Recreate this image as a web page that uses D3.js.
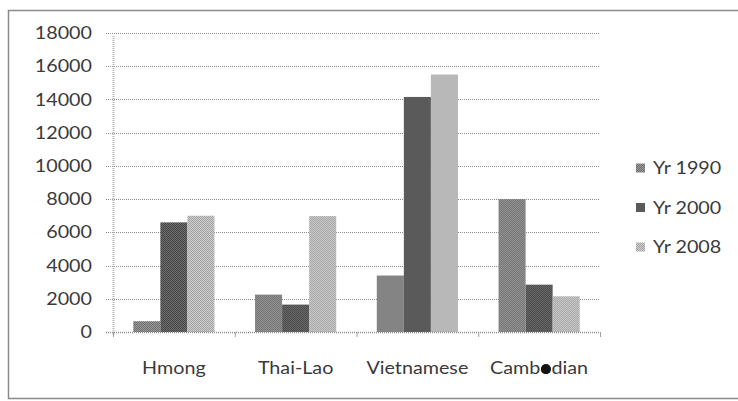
<!DOCTYPE html>
<html>
<head>
<meta charset="utf-8">
<script src="https://cdn.jsdelivr.net/npm/d3@7"></script>
<style>
  html, body { margin: 0; padding: 0; background: #fff; }
  svg { display: block; }
  text { font-family: Lato, "Open Sans", sans-serif; fill: #3a3a3a; }
</style>
</head>
<body>
<svg id="chart" width="738" height="401"></svg>
<script>
// Population by group, three census years
const groups = ["Hmong", "Thai-Lao", "Vietnamese", "Cambodian"];
const seriesNames = ["Yr 1990", "Yr 2000", "Yr 2008"];
const yr1990 = [650, 2250, 3400, 8000];
const yr2000 = [6600, 1650, 14150, 2850];
const yr2008 = [7000, 6980, 15500, 2150];
const yTicks = [0, 2000, 4000, 6000, 8000, 10000, 12000, 14000, 16000, 18000];

const seriesValues = [yr1990, yr2000, yr2008];
const rows = groups.map((g, i) => ({
  group: g,
  values: seriesNames.map((s, j) => ({ series: s, value: seriesValues[j][i] }))
}));

const svg = d3.select("#chart");
const plot = { left: 113, right: 600, top: 33, bottom: 332 };
const stretch = 1.16;
const labelBaseline = 374;
const fontSize = 17;

// two-tone checker fills for each series
const fills = [
  ["#6c6c6c", "#9c9c9c"],
  ["#434343", "#707070"],
  ["#9e9e9e", "#d2d2d2"]
];
const defs = svg.append("defs");
fills.forEach((c, i) => {
  const p = defs.append("pattern")
    .attr("id", "fill" + i)
    .attr("patternUnits", "userSpaceOnUse")
    .attr("width", 2).attr("height", 2);
  p.append("rect").attr("width", 2).attr("height", 2).attr("fill", c[0]);
  p.append("rect").attr("width", 1).attr("height", 1).attr("fill", c[1]);
  p.append("rect").attr("x", 1).attr("y", 1).attr("width", 1).attr("height", 1).attr("fill", c[1]);
});

// widen text horizontally
function widen(sel) {
  sel.each(function () {
    const w = this.getComputedTextLength();
    d3.select(this).attr("textLength", w * stretch).attr("lengthAdjust", "spacingAndGlyphs");
  });
}

// frame around the chart
svg.append("rect")
  .attr("x", 8.5).attr("y", 10.5)
  .attr("width", 745).attr("height", 388)
  .attr("fill", "none").attr("stroke", "#8a8a8a").attr("stroke-width", 1.5);

const x0 = d3.scaleBand().domain(groups).range([plot.left, plot.right]).paddingInner(0).paddingOuter(0);
// gap between groups is 1.5 bar widths
const x1 = d3.scaleBand().domain(seriesNames)
  .range([x0.bandwidth() * 0.75 / 4.5, x0.bandwidth() - x0.bandwidth() * 0.75 / 4.5]);
const y = d3.scaleLinear().domain([0, 18000]).range([plot.bottom, plot.top]);

// gridlines
svg.append("g").selectAll("line").data(yTicks.filter(t => t > 0)).join("line")
  .attr("x1", plot.left - 7).attr("x2", plot.right)
  .attr("y1", d => Math.round(y(d)) + 0.5).attr("y2", d => Math.round(y(d)) + 0.5)
  .attr("stroke", "#8c8c8c").attr("stroke-width", 1).attr("stroke-dasharray", "1,1");

// y axis line
svg.append("line")
  .attr("x1", plot.left + 0.5).attr("x2", plot.left + 0.5)
  .attr("y1", plot.top + 3).attr("y2", plot.bottom + 4)
  .attr("stroke", "#b5b5b5").attr("stroke-width", 2).attr("stroke-dasharray", "1,1");

// bars
const gGroups = svg.append("g").selectAll("g").data(rows).join("g")
  .attr("transform", d => `translate(${x0(d.group)},0)`);
gGroups.selectAll("rect").data(d => d.values).join("rect")
  .attr("x", d => x1(d.series))
  .attr("width", x1.bandwidth())
  .attr("y", d => y(d.value))
  .attr("height", d => y(0) - y(d.value))
  .attr("fill", (d, i) => `url(#fill${i})`);

// x axis with tick marks at group boundaries
svg.append("line")
  .attr("x1", plot.left - 7).attr("x2", plot.right)
  .attr("y1", plot.bottom + 0.5).attr("y2", plot.bottom + 0.5)
  .attr("stroke", "#8c8c8c").attr("stroke-width", 1.5).attr("stroke-dasharray", "1,1");
const bounds = groups.map(g => x0(g)).concat([plot.right]);
svg.append("g").selectAll("line").data(bounds).join("line")
  .attr("x1", d => d + 0.5).attr("x2", d => d + 0.5)
  .attr("y1", plot.bottom).attr("y2", plot.bottom + 5)
  .attr("stroke", "#a0a0a0").attr("stroke-width", 1);

// y tick labels
svg.append("g").selectAll("text").data(yTicks).join("text")
  .attr("x", 92).attr("y", d => y(d))
  .attr("dy", "0.36em")
  .attr("text-anchor", "end")
  .attr("font-size", fontSize)
  .text(d => d)
  .call(widen);

// group labels
const catLabels = svg.append("g").selectAll("text").data(groups).join("text")
  .attr("x", d => x0(d) + x0.bandwidth() / 2)
  .attr("y", labelBaseline)
  .attr("text-anchor", "middle")
  .attr("font-size", fontSize)
  .text(d => d)
  .call(widen);

// ink blot over the "o" of the last label
catLabels.filter(d => d === "Cambodian").each(function () {
  const ext = this.getExtentOfChar(4);
  svg.append("circle")
    .attr("cx", ext.x + ext.width / 2)
    .attr("cy", labelBaseline - fontSize * 0.29)
    .attr("r", 5)
    .attr("fill", "#111");
});

// legend
const legend = svg.append("g").selectAll("g").data(seriesNames).join("g")
  .attr("transform", (d, i) => `translate(636,${168 + i * 39.5})`);
legend.append("rect")
  .attr("x", 0).attr("y", -4.5).attr("width", 9).attr("height", 9)
  .attr("fill", (d, i) => `url(#fill${i})`);
legend.append("text")
  .attr("x", 17).attr("y", 0).attr("dy", "0.36em")
  .attr("font-size", fontSize)
  .text(d => d)
  .call(widen);
</script>
</body>
</html>
